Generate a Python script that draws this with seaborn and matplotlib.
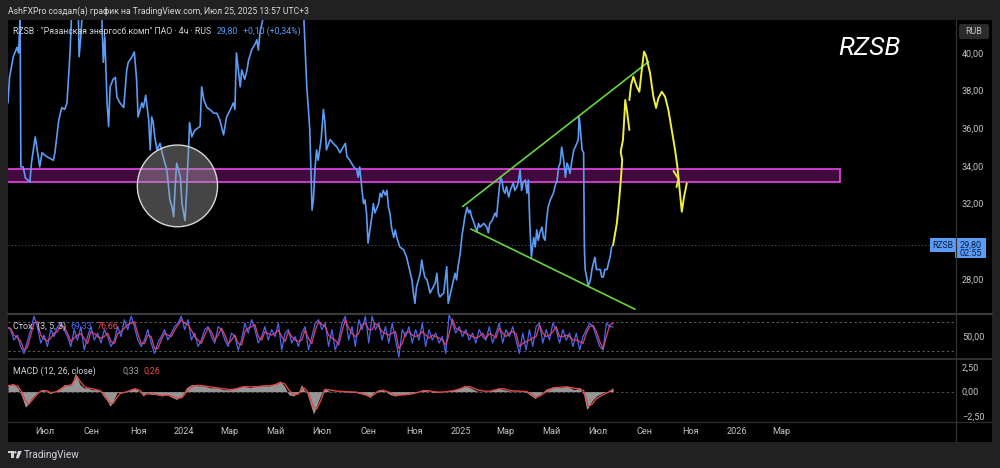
import numpy as np
import pandas as pd
import matplotlib
matplotlib.use("Agg")
import matplotlib.pyplot as plt
import matplotlib.patches as mpatches
import matplotlib.transforms as mtransforms
from matplotlib.lines import Line2D
import seaborn as sns

# ---------------- data (time axis = days from 2025-01-01) ----------------
BASE_DATE = "2025-01-01"

price_days = [-599, -597, -592, -587, -585, -583, -582, -579, -576, -570, -568, -563, -561, -557, -554,
              -548, -539, -537, -532, -528, -524, -521, -519, -517, -515, -506, -505, -503, -501, -490,
              -475, -473, -471, -468, -466, -464, -460, -457, -455, -451, -446, -442, -440, -435, -432,
              -429, -427, -422, -420, -417, -413, -411, -409, -407, -405, -402, -398, -394, -389, -385,
              -382, -380, -378, -376, -371, -369, -365, -363, -360, -359, -356, -352, -345, -343, -340,
              -336, -332, -327, -323, -319, -314, -310, -305, -301, -299, -297, -292, -290, -286, -283,
              -281, -277, -272, -270, -268, -266, -261, -239, -208, -204, -202, -200, -197, -195, -193,
              -191, -189, -185, -182, -180, -178, -175, -173, -169, -164, -160, -156, -153, -151, -147,
              -142, -138, -136, -134, -131, -129, -127, -125, -123, -120, -118, -116, -114, -111, -109,
              -107, -105, -103, -100, -98, -96, -94, -92, -89, -87, -85, -81, -76, -72, -67,
              -65, -63, -61, -59, -54, -52, -50, -48, -45, -41, -37, -34, -32, -30, -28,
              -23, -19, -17, -15, -10, -8, -6, -4, -1, 1, 3, 5, 8, 10, 12,
              14, 16, 19, 21, 23, 25, 30, 34, 36, 38, 41, 43, 45, 47, 49,
              52, 54, 56, 58, 60, 63, 65, 67, 69, 71, 74, 76, 78, 80, 82,
              85, 87, 89, 91, 93, 96, 98, 100, 102, 104, 107, 109, 111, 113, 115,
              118, 122, 124, 127, 129, 131, 133, 135, 138, 140, 142, 144, 146, 149, 151,
              153, 155, 156, 157, 160, 162, 163, 164, 166, 168, 171, 173, 175, 177, 179,
              184, 186, 188, 190, 193, 195, 197, 199, 201]
price_vals = [37.35, 38.7, 39.8, 40.3, 40.0, 42.0, 33.95, 33.95, 33.36, 33.15, 34.16, 35.54, 35.0, 33.95, 34.7,
              34.5, 34.3, 34.7, 36.4, 37.1, 37.0, 37.35, 38.7, 40.0, 42.0, 42.0, 39.8, 40.7, 42.0, 43.0,
              42.0, 39.5, 40.85, 37.35, 36.1, 38.2, 38.6, 38.7, 37.65, 37.35, 37.1, 39.1, 39.5, 39.8, 40.05,
              38.6, 36.6, 37.35, 37.1, 37.75, 36.45, 34.85, 36.6, 36.3, 35.55, 34.85, 35.2, 34.5, 33.8, 32.2,
              31.8, 31.3, 32.9, 34.15, 33.4, 32.0, 31.1, 32.55, 35.2, 36.3, 35.55, 35.9, 36.1, 38.2, 37.5,
              37.1, 37.0, 36.8, 36.8, 36.45, 35.65, 36.6, 37.0, 37.35, 37.0, 40.0, 38.2, 39.1, 38.6, 39.1,
              39.6, 40.15, 40.5, 40.7, 40.15, 41.05, 42.0, 43.0, 42.0, 38.2, 37.1, 35.9, 31.65, 32.35, 33.95,
              34.85, 34.3, 35.4, 37.0, 36.3, 34.85, 35.2, 35.4, 35.2, 35.0, 34.7, 35.0, 35.2, 34.5, 34.3,
              33.95, 33.8, 33.4, 33.95, 32.7, 32.0, 32.2, 31.5, 29.9, 30.75, 31.3, 32.0, 31.5, 31.8, 32.0,
              32.55, 32.35, 32.7, 32.45, 32.7, 31.8, 31.5, 30.75, 30.2, 30.6, 30.2, 29.7, 29.55, 29.15, 28.3,
              27.95, 27.25, 26.7, 27.55, 28.3, 29.0, 28.5, 28.1, 27.95, 27.25, 27.55, 27.8, 28.3, 27.25, 27.05,
              27.25, 28.65, 26.7, 27.05, 27.95, 28.3, 27.95, 28.65, 29.4, 30.25, 30.75, 31.3, 31.8, 31.5, 31.65,
              31.3, 31.1, 30.75, 30.5, 30.95, 30.75, 30.95, 30.75, 30.45, 30.95, 31.1, 31.3, 31.5, 31.3, 32.2,
              33.4, 33.25, 32.7, 32.55, 32.9, 32.35, 32.7, 32.9, 33.1, 32.7, 32.9, 33.25, 33.8, 32.7, 33.1,
              33.25, 32.55, 33.25, 30.75, 29.15, 30.2, 29.7, 30.6, 30.05, 30.45, 30.75, 30.2, 30.05, 31.1, 31.8,
              32.2, 32.55, 32.9, 33.25, 33.95, 34.15, 35.0, 34.5, 33.4, 34.15, 33.95, 33.6, 34.15, 34.85, 35.0,
              35.2, 35.4, 36.6, 36.3, 34.85, 34.7, 29.7, 28.5, 28.1, 27.6, 27.95, 28.5, 28.85, 29.15, 28.5,
              28.5, 28.1, 28.1, 28.5, 28.5, 28.85, 29.15, 29.7, 29.8]
last_price = 29.80

# hand-drawn projection (yellow), three strokes
proj1_days = [201, 206, 209, 211.5, 213, 211, 214, 216, 217, 219.5, 222.5]
proj1_vals = [29.80, 30.97, 32.19, 33.41, 34.32, 34.74, 35.38, 36.71, 37.50, 36.87, 35.91]
proj2_days = [222.5, 224.7, 227.8, 232.3, 235.7, 238.9, 241.9, 244.6, 249.9, 254.2, 257.8, 260.8, 265.3,
              269.7, 274.1, 278.5, 282.9, 286.0, 288.6, 291.8, 294.8, 298.4]
proj2_vals = [37.50, 38.30, 38.74, 38.21, 37.94, 39.10, 40.07, 39.84, 38.92, 37.68, 37.08, 37.59, 37.94,
              37.68, 36.97, 35.91, 34.85, 33.95, 32.88, 31.57, 32.37, 33.08]
proj3_days = [280.9, 287.5, 284.8]
proj3_vals = [33.73, 33.31, 32.88]

# trend lines (green)
upper_days = [2, 248]
upper_vals = [31.84, 39.54]
lower_days = [13, 230]
lower_vals = [30.65, 26.39]

# support zone (magenta) and highlighted circle
zone_days = [-610, 501]
zone_levels = [33.17, 33.84]
circle_center = (-375, 32.94)
circle_size = (106, 4.34)   # width in days, height in RUB

# Stochastic (3, 5, 3)
stoch_first_day, stoch_last_day = -600, 201
stoch_k = [70, 64, 43, 53, 30, 16, 40, 64, 91, 70, 37, 53, 30, 64, 50, 70, 77, 64, 50, 30, 64, 43, 70, 23, 50,
           70, 43, 57, 37, 64, 50, 30, 43, 70, 50, 84, 64, 91, 70, 43, 30, 43, 64, 37, 16, 37, 50, 64, 43, 57,
           70, 77, 91, 64, 84, 43, 57, 30, 43, 64, 70, 50, 37, 70, 64, 43, 30, 57, 50, 23, 43, 77, 57, 84, 64,
           37, 50, 70, 43, 64, 50, 77,
           23, 57, 64, 37, 50, 30, 57, 70, 23, 50, 77, 84, 64, 77, 30, 64, 23, 43, 77, 91, 43, 70, 30, 84, 64,
           91, 37, 91, 64, 77, 43, 70, 37, 77, 43, 9, 64, 50, 70, 37, 64, 43, 77, 30, 64, 43, 57, 37, 50, 16,
           94, 77, 57, 70, 50, 64, 43, 57, 37, 64, 50, 43, 70, 37, 57, 77, 37, 64, 50, 70, 43, 16, 57, 23, 64,
           30, 70, 77, 37, 64, 43, 77, 64, 37, 64, 43, 57, 30, 57, 23, 50, 64, 77, 70, 50, 30, 23, 77, 70, 69.33]
stoch_d = [68, 67, 53, 48, 41, 23, 28, 52, 77, 80, 53, 45, 41, 47, 57, 60, 73, 70, 57, 40, 47, 53, 56, 46, 36,
           60, 56, 50, 47, 50, 57, 40, 36, 56, 60, 67, 74, 77, 80, 56, 36, 36, 53, 50, 26, 26, 43, 57, 53, 50,
           63, 73, 84, 77, 74, 63, 50, 43, 36, 53, 67, 60, 43, 53, 67, 53, 36, 43, 53, 36, 33, 60, 67, 70, 74,
           50, 43, 60, 56, 53, 57, 63,
           50, 40, 60, 50, 43, 40, 43, 63, 46, 36, 63, 80, 74, 70, 53, 47, 43, 33, 60, 84, 67, 56, 50, 57, 74,
           77, 64, 64, 77, 70, 60, 56, 53, 57, 60, 26, 36, 57, 60, 53, 50, 53, 60, 53, 47, 53, 50, 47, 43, 33,
           55, 85, 67, 63, 60, 57, 53, 50, 47, 50, 57, 46, 56, 53, 47, 67, 57, 50, 57, 60, 56, 30, 36, 40, 43,
           47, 50, 73, 57, 50, 53, 60, 70, 50, 50, 53, 50, 43, 43, 40, 36, 57, 70, 73, 60, 40, 26, 50, 73, 76.66]

# MACD (12, 26, close)
macd_days = [-599, -592, -586, -581, -576, -572, -568, -563, -559, -554, -548, -543, -537, -530, -524,
             -519, -515, -510, -508, -504, -499, -495, -488, -482, -477, -473, -468, -464, -460, -455,
             -451, -444, -438, -431, -424, -420, -416, -409, -402, -396, -389, -382, -376, -369, -363,
             -356, -349, -341, -332, -323, -314, -305, -297, -288, -279, -270, -261, -253, -244, -239,
             -233, -228, -222, -215, -211, -208, -204, -200, -195, -191, -186, -182, -180, -175, -164,
             -151, -138, -125, -120, -116, -109, -103, -94, -87, -81, -72, -63, -54, -50, -43,
             -37, -28, -19, -10, -1, 5, 12, 21, 30, 38, 49, 56, 65, 78, 87,
             93, 98, 104, 113, 122, 131, 140, 149, 157, 162, 166, 168, 173, 179, 188,
             195, 201]
macd_vals = [0.7, 0.8, 0.4, -0.45, -1.6, -1.25, -0.7, -0.3, 0.0, 0.2, 0.0, -0.2, 0.0, 0.4, 0.75,
             0.6, 0.75, 1.9, 1.6, 0.75, 0.4, 0.4, 0.2, 0.2, 0.05, -0.45, -0.95, -1.5, -1.0, -0.1,
             -0.1, 0.0, 0.2, 0.4, -0.1, -0.45, -0.1, -0.3, -0.3, -0.45, -0.3, -0.6, -0.8, -0.45, 0.4,
             0.75, 0.6, 0.6, 0.4, 0.4, 0.2, 0.2, 0.4, 0.6, 0.4, 0.6, 0.6, 0.6, 0.9, 1.1,
             0.5, -0.3, -0.45, -0.1, 0.75, 0.2, -0.1, -1.1, -2.3, -1.45, -0.45, 0.2, 0.4, 0.05, 0.0,
             -0.05, -0.1, -0.4, -0.6, -0.1, 0.2, 0.15, -0.3, -0.45, -0.3, -0.3, -0.1, 0.05, 0.2, 0.05,
             -0.1, -0.05, 0.05, 0.2, 0.4, 0.65, 0.4, 0.05, 0.0, 0.05, 0.4, 0.2, 0.05, 0.05, -0.1,
             -0.45, -0.7, -0.3, 0.3, 0.5, 0.4, 0.55, 0.2, 0.35, -0.3, -1.8, -1.65, -0.95, -0.45, -0.1,
             0.05, 0.33]
signal_vals = [0.6, 0.7, 0.55, 0.0, -0.9, -1.3, -0.95, -0.5, -0.15, 0.1, 0.1, -0.1, -0.05, 0.2, 0.55,
               0.65, 0.7, 1.3, 1.6, 1.1, 0.6, 0.4, 0.3, 0.2, 0.1, -0.2, -0.7, -1.2, -1.2, -0.6,
               -0.2, -0.05, 0.1, 0.3, 0.1, -0.3, -0.25, -0.2, -0.3, -0.4, -0.35, -0.45, -0.7, -0.6, -0.05,
               0.5, 0.65, 0.6, 0.5, 0.4, 0.3, 0.2, 0.3, 0.5, 0.5, 0.5, 0.6, 0.6, 0.75, 0.95,
               0.8, 0.2, -0.3, -0.25, 0.3, 0.4, 0.1, -0.5, -1.6, -1.8, -1.0, -0.2, 0.2, 0.2, 0.05,
               0.0, -0.05, -0.3, -0.5, -0.35, 0.05, 0.15, -0.1, -0.35, -0.35, -0.3, -0.2, 0.0, 0.1, 0.1,
               0.0, -0.05, 0.0, 0.1, 0.3, 0.5, 0.5, 0.2, 0.05, 0.05, 0.25, 0.3, 0.1, 0.05, 0.0,
               -0.25, -0.55, -0.45, 0.0, 0.4, 0.45, 0.5, 0.35, 0.3, 0.1, -0.9, -1.5, -1.3, -0.7, -0.3,
               -0.05, 0.26]

# axis ticks
price_ticks = [28, 32, 34, 36, 38, 40]
x_tick_dates = ["2023-07-01", "2023-09-01", "2023-11-01", "2024-01-01", "2024-03-01", "2024-05-01",
                "2024-07-01", "2024-09-01", "2024-11-01", "2025-01-01", "2025-03-01", "2025-05-01",
                "2025-07-01", "2025-09-01", "2025-11-01", "2026-01-01", "2026-03-01"]
x_tick_labels = ["Июл", "Сен", "Ноя", "2024", "Мар", "Май", "Июл", "Сен", "Ноя", "2025", "Мар", "Май",
                 "Июл", "Сен", "Ноя", "2026", "Мар"]

# ---------------- style ----------------
sns.set_style("dark")
plt.rcParams["font.family"] = ["Roboto", "DejaVu Sans"]

BG = "#212121"
TXT = "#d1d4dc"
TICK = "#c4c4c4"
BLUE = "#5b9cf6"
SEP = "#3a3a3a"

W, H = 1000, 468
fig = plt.figure(figsize=(W / 100, H / 100), dpi=100, facecolor=BG)
pix = mtransforms.Affine2D().scale(1 / W, -1 / H).translate(0, 1) + fig.transFigure


def fbox(x0, y0, x1, y1):
    return [x0 / W, 1 - y1 / H, (x1 - x0) / W, (y1 - y0) / H]


fig.patches.append(mpatches.Rectangle((8, 20), 984, 422, transform=pix, facecolor="black",
                                      edgecolor="none", zorder=-10))

ax = fig.add_axes(fbox(8, 20, 955, 313))
ax_st = fig.add_axes(fbox(8, 314, 955, 358), sharex=ax)
ax_md = fig.add_axes(fbox(8, 359, 955, 421), sharex=ax)
for a in (ax, ax_st, ax_md):
    a.set_zorder(1)
    a.set_facecolor("black")
    for s in a.spines.values():
        s.set_visible(False)
    a.grid(False)
    a.yaxis.tick_right()
    a.tick_params(axis="both", length=0, colors=TICK, labelsize=6.6, pad=5)
ax.tick_params(labelbottom=False)
ax_st.tick_params(labelbottom=False)

# ---- main price panel ----
ax.add_patch(mpatches.Rectangle((zone_days[0], zone_levels[0]), zone_days[1] - zone_days[0],
                                zone_levels[1] - zone_levels[0], facecolor="#400a3c",
                                edgecolor="#d840d8", lw=1.3, zorder=1))
ax.axhline(last_price, color="#44536e", lw=0.8, ls=(0, (1, 2)), zorder=1)
sns.lineplot(x=price_days, y=price_vals, ax=ax, color=BLUE, lw=1.2, estimator=None, sort=False, zorder=3)
ax.add_patch(mpatches.Ellipse(circle_center, circle_size[0], circle_size[1],
                              facecolor=(0.65, 0.65, 0.65, 0.42), edgecolor="#d8d8d8", lw=1.0, zorder=4))
for dd, vv in ((upper_days, upper_vals), (lower_days, lower_vals)):
    sns.lineplot(x=dd, y=vv, ax=ax, color="#66d63a", lw=1.2, estimator=None, sort=False, zorder=4)
for dd, vv in ((proj1_days, proj1_vals), (proj2_days, proj2_vals), (proj3_days, proj3_vals)):
    sns.lineplot(x=dd, y=vv, ax=ax, color="#eef03a", lw=1.4, estimator=None, sort=False, zorder=5)

ax.set_ylim(26.19, 41.75)
ax.set_yticks(price_ticks)
ax.set_yticklabels([f"{v:.2f}".replace(".", ",") for v in price_ticks])

# price label boxes
trans = mtransforms.blended_transform_factory(ax.transAxes, ax.transData)
ppx = 1 / 947
ppy = 1 / 18.83
ax.add_patch(mpatches.Rectangle((1 - 25 * ppx, last_price - 7 * ppy), 25 * ppx, 14 * ppy, transform=trans,
                                facecolor=BLUE, edgecolor="none", clip_on=False, zorder=8))
ax.add_patch(mpatches.Rectangle((1, last_price - 13 * ppy), 31 * ppx, 20 * ppy, transform=trans,
                                facecolor=BLUE, edgecolor="none", clip_on=False, zorder=8))
ax.text(1 - 12.5 * ppx, last_price, "RZSB", transform=trans, ha="center", va="center", fontsize=6.2,
        color="#0b1f44", clip_on=False, zorder=9)
ax.text(1 + 15.5 * ppx, last_price, "29,80", transform=trans, ha="center", va="center", fontsize=6.5,
        color="#0b1f44", clip_on=False, zorder=9)
ax.text(1 + 15.5 * ppx, last_price - 8.5 * ppy, "02:55", transform=trans, ha="center", va="center",
        fontsize=6.5, color="#0b1f44", clip_on=False, zorder=9)

# ---- stochastic panel ----
st_days = np.linspace(stoch_first_day, stoch_last_day, len(stoch_k))
ax_st.axhline(80, color="#5c5c5c", lw=0.7, ls=(0, (2.5, 2.5)))
ax_st.axhline(20, color="#5c5c5c", lw=0.7, ls=(0, (2.5, 2.5)))
sns.lineplot(x=st_days, y=stoch_k, ax=ax_st, color="#4a66f0", lw=0.9, estimator=None, sort=False)
sns.lineplot(x=st_days, y=stoch_d, ax=ax_st, color="#e8457a", lw=0.95, alpha=0.9, estimator=None, sort=False)
ax_st.set_ylim(6.9, 95.5)
ax_st.set_yticks([50])
ax_st.set_yticklabels(["50,00"])

# ---- MACD panel ----
ax_md.axhline(0, color="#4a4a4a", lw=0.7, ls=(0, (2.5, 2.5)))
ax_md.fill_between(macd_days, macd_vals, 0, color="#a8a8a8", alpha=0.9, lw=0, zorder=2)
sns.lineplot(x=macd_days, y=signal_vals, ax=ax_md, color="#e04848", lw=1.0, estimator=None, sort=False,
             zorder=3)
ax_md.set_ylim(-3.01, 3.35)
ax_md.set_yticks([2.5, 0, -2.5])
ax_md.set_yticklabels(["2,50", "0,00", "−2,50"])

base = pd.Timestamp(BASE_DATE)
tick_days = [(pd.Timestamp(d) - base).days for d in x_tick_dates]
ax_md.set_xticks(tick_days)
ax_md.set_xticklabels(x_tick_labels)
ax_md.tick_params(axis="x", pad=4.5, labelsize=6.6)

for a in (ax, ax_st, ax_md):
    a.set_xlabel("")
    a.set_ylabel("")
ax.set_xlim(-599, 653)

# ---- separators ----
fig.add_artist(Line2D([8, 992], [313.5, 313.5], transform=pix, color=SEP, lw=1.6, zorder=2))
fig.add_artist(Line2D([8, 992], [358.5, 358.5], transform=pix, color=SEP, lw=1.2, zorder=2))
fig.add_artist(Line2D([8, 992], [421.5, 421.5], transform=pix, color="#2e2e2e", lw=0.9, zorder=2))
fig.add_artist(Line2D([955.5, 955.5], [20, 442], transform=pix, color="#333333", lw=0.9, zorder=2))


# ---- texts ----
def chain(axis, x, y, parts, fs):
    prev = axis.text(x, y, parts[0][0], transform=pix, color=parts[0][1], fontsize=fs, ha="left",
                     va="center", zorder=10)
    for s, c, gap in parts[1:]:
        prev = axis.annotate(s, xy=(1, 0.5), xycoords=prev, xytext=(gap, 0), textcoords="offset points",
                             color=c, fontsize=fs, ha="left", va="center", zorder=10)
    return prev


fig.text(8 / W, 1 - 11 / H, "AshFXPro создал(а) график на TradingView.com, Июл 25, 2025 13:57 UTC+3",
         color="#d6d6d6", fontsize=6.25, ha="left", va="center")
chain(ax, 13, 31, [('RZSB · "Рязанская энергосб.комп" ПАО · 4ч · RUS', TXT, 0),
                   ("29,80", BLUE, 4.0), ("+0,10 (+0,34%)", BLUE, 3.4)], 6.3)
chain(ax_st, 13, 326, [("Стох. (3, 5, 3)", TXT, 0), ("69,33", "#4a66f0", 3), ("76,66", "#e84a5a", 3)], 6.4)
chain(ax_md, 13, 371, [("MACD (12, 26, close)", TXT, 0), ("0,33", "#a0a0a0", 19), ("0,26", "#e84a4a", 3.6)],
      6.4)

fig.text(838 / W, 1 - 48 / H, "RZSB", color="white", fontsize=19, style="italic", ha="left", va="center",
         zorder=10)

# RUB box
fig.patches.append(mpatches.FancyBboxPatch((959, 24), 30, 15, boxstyle="round,pad=0,rounding_size=2",
                                           transform=pix, facecolor="#2b2b2b", edgecolor="none", zorder=5))
fig.text(974 / W, 1 - 31.5 / H, "RUB", color=TICK, fontsize=6.4, ha="center", va="center", zorder=10)

# TradingView logo + name
fig.patches.append(mpatches.Rectangle((7.5, 451), 6, 2.4, transform=pix, facecolor=TXT, edgecolor="none"))
fig.patches.append(mpatches.Rectangle((11.1, 451), 2.4, 7.3, transform=pix, facecolor=TXT, edgecolor="none"))
fig.patches.append(mpatches.Circle((15.3, 452.3), 1.25, transform=pix, facecolor=TXT, edgecolor="none"))
fig.patches.append(mpatches.Polygon([(18.0, 451), (21.8, 451), (18.6, 458.3), (15.8, 458.3)], closed=True,
                                    transform=pix, facecolor=TXT, edgecolor="none"))
fig.text(24 / W, 1 - 455 / H, "TradingView", color=TXT, fontsize=7.2, ha="left", va="center")

fig.savefig("out.png", dpi=100, facecolor=BG)
